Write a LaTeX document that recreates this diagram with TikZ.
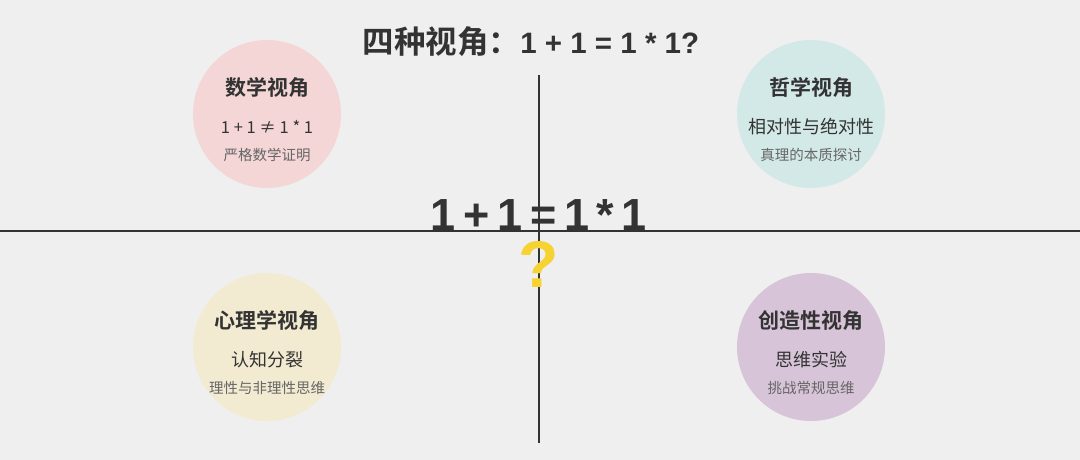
\documentclass[tikz,border=0pt]{standalone}
\usepackage{fontspec}
\setmainfont{Noto Sans CJK SC}
\newfontfamily\cjkb{Noto Sans CJK SC Bold}
\newfontfamily\numb{Liberation Sans}
\definecolor{bg}{HTML}{EFEFEF}
\definecolor{ink}{HTML}{333333}
\definecolor{sub}{HTML}{666666}
\definecolor{cpink}{HTML}{F4D6D6}
\definecolor{cteal}{HTML}{D3E9E7}
\definecolor{ccream}{HTML}{F2EBD2}
\definecolor{cpurple}{HTML}{D8C4D9}
\definecolor{qyellow}{HTML}{F6D232}
\newcommand{\gp}{\hspace{0.17em}}
\tikzset{
  disc/.style={circle, fill=#1, draw=none, minimum size=148pt, inner sep=0pt},
  ttl/.style={font=\cjkb\fontsize{21}{23}\selectfont, text=ink, inner sep=0pt},
  mid/.style={font=\fontsize{18}{20}\selectfont, text=ink, inner sep=0pt},
  small/.style={font=\fontsize{14.5}{16}\selectfont, text=sub, inner sep=0pt},
  axis/.style={draw=ink, line width=1.3pt}
}
\begin{document}
\begin{tikzpicture}[x=1pt,y=-1pt]
\fill[bg] (0,0) rectangle (1080,460);
\useasboundingbox (0,0) rectangle (1080,460);
% circles
\node[disc=cpink] (c1) at (267,114) {};
\node[disc=cteal] (c2) at (811,114) {};
\node[disc=ccream] (c3) at (267,347) {};
\node[disc=cpurple] (c4) at (811,347) {};
% axes
\coordinate (hl) at (0,231);
\coordinate (hr) at (1080,231);
\coordinate (vt) at (539,75);
\coordinate (vb) at (539,443);
\draw[axis] (hl) -- (hr);
\draw[axis] (vt) -- (vb);
% title
\node[anchor=base, text=ink, inner sep=0pt] (title) at (531,54)
  {\cjkb\fontsize{31.5}{34}\selectfont 四种视角：\numb\bfseries\fontsize{29.5}{32}\selectfont 1 + 1 = 1 * 1?};
% center
\node[anchor=base, font=\numb\bfseries\fontsize{45}{50}\selectfont, text=ink, inner sep=0pt] (eq) at (539,230)
  {1\gp+\gp1\gp=\gp1\gp*\gp1};
\node[anchor=base, font=\numb\bfseries\fontsize{66}{70}\selectfont, text=qyellow, inner sep=0pt] (q) at (539,287) {?};
% quadrant 1
\node[ttl] (t1) at (267,88) {数学视角};
\node[mid, font=\fontsize{16.5}{18}\selectfont] (m1) at (267,127) {1 + 1 ≠ 1 * 1};
\node[small] (s1) at (267,155) {严格数学证明};
% quadrant 2
\node[ttl] (t2) at (811,88) {哲学视角};
\node[mid] (m2) at (811,127) {相对性与绝对性};
\node[small] (s2) at (811,155) {真理的本质探讨};
% quadrant 3
\node[ttl] (t3) at (267,321) {心理学视角};
\node[mid] (m3) at (267,360) {认知分裂};
\node[small] (s3) at (267,388) {理性与非理性思维};
% quadrant 4
\node[ttl] (t4) at (811,321) {创造性视角};
\node[mid] (m4) at (811,360) {思维实验};
\node[small] (s4) at (811,388) {挑战常规思维};
\end{tikzpicture}
\end{document}
